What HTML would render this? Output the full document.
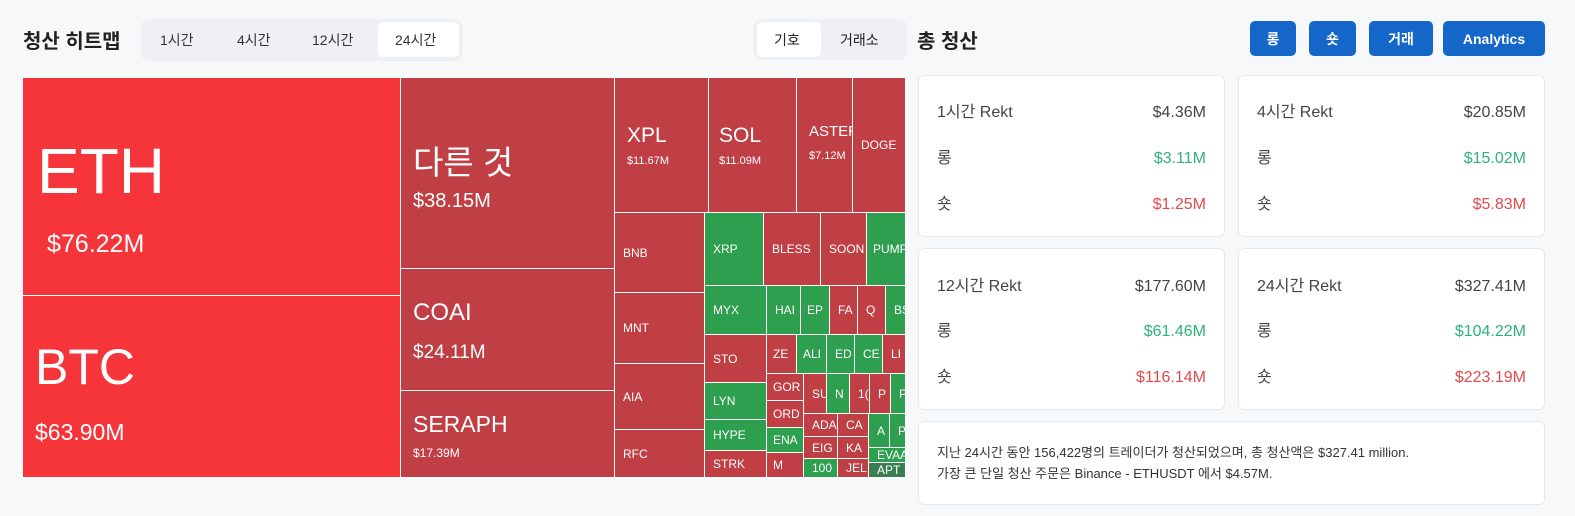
<!DOCTYPE html><html><head><meta charset="utf-8"><style>
body{margin:0;width:1575px;height:516px;background:#f7f8fa;font-family:"Liberation Sans","Noto Sans CJK KR",sans-serif;position:relative;overflow:hidden;color:#222}
.a{position:absolute;box-sizing:border-box}
.c{position:absolute;box-sizing:border-box;color:#fff;overflow:hidden;white-space:nowrap;font-size:12px;display:flex;align-items:center;padding-left:8px;border-right:1px solid #fff;border-bottom:1px solid #fff}
.r{background:#bf3f44}.g{background:#2e9e4f}.b{background:#f5353a}.d{background:#3a7d4f}
.card{position:absolute;background:#fff;border:1px solid #e6e8eb;border-radius:6px;box-sizing:border-box}
.row{position:absolute;left:18px;right:18px;height:24px;line-height:24px;font-size:16px;color:#444;display:flex;justify-content:space-between;align-items:center}
.row span{line-height:24px}
.gn{color:#2db37a}.rd{color:#e5484d}
.btn{position:absolute;top:21px;height:35px;background:#1466c9;color:#fff;border-radius:5px;font-size:14px;font-weight:bold;display:flex;align-items:center;justify-content:center}
</style></head><body>
<div class="a" style="left:23px;top:25px;font-size:20px;font-weight:bold">청산 히트맵</div>
<div class="a" style="left:141px;top:19px;width:322px;height:42px;background:#eef0f3;border-radius:8px"></div>
<div class="a" style="left:378px;top:22px;width:81px;height:35px;background:#fff;border-radius:6px"></div>
<div class="a" style="left:160px;top:30px;font-size:14px;color:#333">1시간</div>
<div class="a" style="left:237px;top:30px;font-size:14px;color:#333">4시간</div>
<div class="a" style="left:312px;top:30px;font-size:14px;color:#333">12시간</div>
<div class="a" style="left:395px;top:30px;font-size:14px;color:#333">24시간</div>
<div class="a" style="left:753px;top:19px;width:154px;height:41px;background:#eef0f3;border-radius:8px"></div>
<div class="a" style="left:757px;top:22px;width:64px;height:35px;background:#fff;border-radius:6px"></div>
<div class="a" style="left:774px;top:30px;font-size:14px">기호</div>
<div class="a" style="left:840px;top:30px;font-size:14px">거래소</div>

<div class="c b" style="left:23px;top:78px;width:378px;height:218px;display:block;padding:0"><div class="a" style="left:14px;top:56px;font-size:64px">ETH</div><div class="a" style="left:24px;top:152px;font-size:25px">$76.22M</div></div>
<div class="c b" style="left:23px;top:296px;width:378px;height:182px;display:block;padding:0"><div class="a" style="left:12px;top:42px;font-size:50px">BTC</div><div class="a" style="left:12px;top:123px;font-size:23px">$63.90M</div></div>
<div class="c r" style="left:401px;top:78px;width:214px;height:191px;display:block;padding:0"><div class="a" style="left:12px;top:58px;font-size:33px">다른 것</div><div class="a" style="left:12px;top:112px;font-size:20px">$38.15M</div></div>
<div class="c r" style="left:401px;top:269px;width:214px;height:122px;display:block;padding:0"><div class="a" style="left:12px;top:30px;font-size:24px">COAI</div><div class="a" style="left:12px;top:73px;font-size:19px">$24.11M</div></div>
<div class="c r" style="left:401px;top:391px;width:214px;height:87px;display:block;padding:0"><div class="a" style="left:12px;top:20px;font-size:23px">SERAPH</div><div class="a" style="left:12px;top:55px;font-size:12px">$17.39M</div></div>
<div class="c r" style="left:615px;top:78px;width:94px;height:135px;display:block;padding:0"><div class="a" style="left:12px;top:46px;font-size:21px">XPL</div><div class="a" style="left:12px;top:77px;font-size:11px">$11.67M</div></div>
<div class="c r" style="left:709px;top:78px;width:88px;height:135px;display:block;padding:0"><div class="a" style="left:10px;top:46px;font-size:21px">SOL</div><div class="a" style="left:10px;top:77px;font-size:11px">$11.09M</div></div>
<div class="c r" style="left:797px;top:78px;width:56px;height:135px;display:block;padding:0"><div class="a" style="left:12px;top:45px;font-size:15px">ASTER</div><div class="a" style="left:12px;top:72px;font-size:11px">$7.12M</div></div>
<div class="c r" style="left:853px;top:78px;width:53px;height:135px">DOGE</div>
<div class="c r" style="left:615px;top:213px;width:90px;height:80px">BNB</div>
<div class="c r" style="left:615px;top:293px;width:90px;height:71px">MNT</div>
<div class="c r" style="left:615px;top:364px;width:90px;height:66px">AIA</div>
<div class="c r" style="left:615px;top:430px;width:90px;height:48px">RFC</div>
<div class="c g" style="left:705px;top:213px;width:59px;height:73px">XRP</div>
<div class="c r" style="left:764px;top:213px;width:57px;height:73px">BLESS</div>
<div class="c r" style="left:821px;top:213px;width:46px;height:73px">SOON</div>
<div class="c g" style="left:867px;top:213px;width:39px;height:73px;padding-left:6px">PUMP</div>
<div class="c g" style="left:705px;top:286px;width:62px;height:49px">MYX</div>
<div class="c r" style="left:705px;top:335px;width:62px;height:48px">STO</div>
<div class="c g" style="left:705px;top:383px;width:62px;height:37px">LYN</div>
<div class="c g" style="left:705px;top:420px;width:62px;height:31px">HYPE</div>
<div class="c r" style="left:705px;top:451px;width:62px;height:27px">STRK</div>
<div class="c g" style="left:767px;top:286px;width:34px;height:49px">HAI</div>
<div class="c g" style="left:801px;top:286px;width:29px;height:49px;padding-left:6px">EP</div>
<div class="c r" style="left:830px;top:286px;width:28px;height:49px">FA</div>
<div class="c r" style="left:858px;top:286px;width:28px;height:49px">Q</div>
<div class="c g" style="left:886px;top:286px;width:20px;height:49px">BS</div>
<div class="c r" style="left:767px;top:335px;width:30px;height:39px;padding-left:6px">ZE</div>
<div class="c g" style="left:797px;top:335px;width:30px;height:39px;padding-left:6px">ALI</div>
<div class="c g" style="left:827px;top:335px;width:28px;height:39px">ED</div>
<div class="c g" style="left:855px;top:335px;width:28px;height:39px">CE</div>
<div class="c r" style="left:883px;top:335px;width:23px;height:39px">LI</div>
<div class="c r" style="left:767px;top:374px;width:37px;height:27px;padding-left:6px">GOR</div>
<div class="c r" style="left:767px;top:401px;width:37px;height:27px;padding-left:6px">ORD</div>
<div class="c g" style="left:767px;top:428px;width:37px;height:25px;padding-left:6px">ENA</div>
<div class="c r" style="left:767px;top:453px;width:37px;height:25px;padding-left:6px">M</div>
<div class="c r" style="left:804px;top:374px;width:23px;height:40px">SU</div>
<div class="c g" style="left:827px;top:374px;width:23px;height:40px">N</div>
<div class="c r" style="left:850px;top:374px;width:20px;height:40px">1(</div>
<div class="c r" style="left:870px;top:374px;width:21px;height:40px">P</div>
<div class="c g" style="left:891px;top:374px;width:15px;height:40px">P</div>
<div class="c r" style="left:804px;top:414px;width:34px;height:23px">ADA</div>
<div class="c r" style="left:804px;top:437px;width:34px;height:22px">EIG</div>
<div class="c g" style="left:804px;top:459px;width:34px;height:19px">100</div>
<div class="c r" style="left:838px;top:414px;width:31px;height:23px">CA</div>
<div class="c r" style="left:838px;top:437px;width:31px;height:22px">KA</div>
<div class="c r" style="left:838px;top:459px;width:31px;height:19px">JEL</div>
<div class="c g" style="left:869px;top:414px;width:21px;height:34px">A</div>
<div class="c g" style="left:890px;top:414px;width:16px;height:34px">P</div>
<div class="c g" style="left:869px;top:448px;width:37px;height:15px">EVAA</div>
<div class="c d" style="left:869px;top:463px;width:37px;height:15px">APT</div>

<div class="a" style="left:917px;top:25px;font-size:20px;font-weight:bold">총 청산</div>
<div class="btn" style="left:1250px;width:46px">롱</div>
<div class="btn" style="left:1309px;width:47px">숏</div>
<div class="btn" style="left:1369px;width:64px">거래</div>
<div class="btn" style="left:1443px;width:102px">Analytics</div>

<div class="card" style="left:918px;top:75px;width:307px;height:162px"><div class="row" style="top:25px"><span>1시간 Rekt</span><span>$4.36M</span></div><div class="row" style="top:71px"><span>롱</span><span class="gn">$3.11M</span></div><div class="row" style="top:117px"><span>숏</span><span class="rd">$1.25M</span></div></div>
<div class="card" style="left:1238px;top:75px;width:307px;height:162px"><div class="row" style="top:25px"><span>4시간 Rekt</span><span>$20.85M</span></div><div class="row" style="top:71px"><span>롱</span><span class="gn">$15.02M</span></div><div class="row" style="top:117px"><span>숏</span><span class="rd">$5.83M</span></div></div>
<div class="card" style="left:918px;top:248px;width:307px;height:162px"><div class="row" style="top:26px"><span>12시간 Rekt</span><span>$177.60M</span></div><div class="row" style="top:71px"><span>롱</span><span class="gn">$61.46M</span></div><div class="row" style="top:117px"><span>숏</span><span class="rd">$116.14M</span></div></div>
<div class="card" style="left:1238px;top:248px;width:307px;height:162px"><div class="row" style="top:26px"><span>24시간 Rekt</span><span>$327.41M</span></div><div class="row" style="top:71px"><span>롱</span><span class="gn">$104.22M</span></div><div class="row" style="top:117px"><span>숏</span><span class="rd">$223.19M</span></div></div>
<div class="card" style="left:918px;top:421px;width:627px;height:84px;padding:20px 0 0 18px;font-size:13px;line-height:21px;color:#333">지난 24시간 동안 156,422명의 트레이더가 청산되었으며, 총 청산액은 $327.41 million.<br>가장 큰 단일 청산 주문은 Binance - ETHUSDT 에서 $4.57M.</div>
</body></html>
